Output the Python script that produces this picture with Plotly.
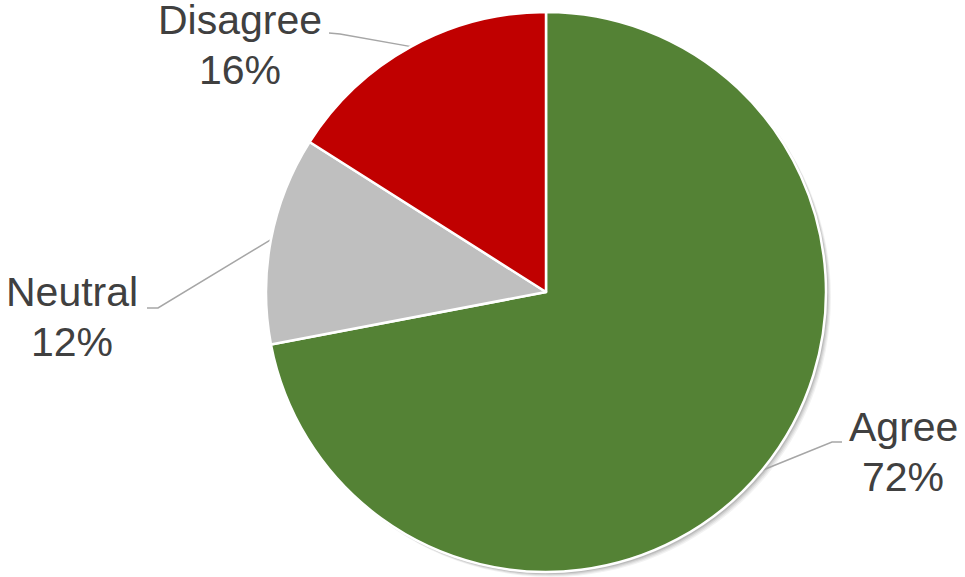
import math
import plotly.graph_objects as go

# Survey response shares (percent)
categories = ["Agree", "Neutral", "Disagree"]
values = [72, 12, 16]
colors = ["#548235", "#BFBFBF", "#C00000"]

W, H = 965, 577
CX, CY, R = 546, 292, 280  # pie centre and radius in pixels

# Label block centres (px) and leader elbows (px) for each slice
label_pos = [(903, 452), (72, 317), (240, 45)]
elbow_pos = [((842, 442), (832, 442)), ((147, 308), (158, 308)), ((329, 33), (340, 34))]

TEXT_COLOR = "#404040"
FONT = "Arial, Liberation Sans, sans-serif"

fig = go.Figure()

# soft drop shadow under the pie
for off, op in [(5, 0.05), (4, 0.06), (3, 0.08), (2, 0.10)]:
    fig.add_shape(type="circle", xref="x", yref="y",
                  x0=CX - R + off, x1=CX + R + off, y0=CY - R + off, y1=CY + R + off,
                  fillcolor="rgba(0,0,0,%.2f)" % op, line_width=0, layer="below")

fig.add_trace(go.Pie(
    labels=categories, values=values, sort=False, direction="clockwise",
    rotation=0, textinfo="none", hoverinfo="label+percent",
    marker=dict(colors=colors, line=dict(color="white", width=2.5)),
    domain=dict(x=[(CX - R) / W, (CX + R) / W], y=[1 - (CY + R) / H, 1 - (CY - R) / H]),
    showlegend=False,
))

total = sum(values)
start = 0.0
for cat, v, (lx, ly), (p0, p1) in zip(categories, values, label_pos, elbow_pos):
    frac = v / total
    mid = (start + frac / 2) * 2 * math.pi
    start += frac
    ax = CX + R * math.sin(mid)
    ay = CY - R * math.cos(mid)
    fig.add_trace(go.Scatter(
        x=[p0[0], p1[0], ax], y=[p0[1], p1[1], ay], mode="lines",
        line=dict(color="#A6A6A6", width=1.5), hoverinfo="skip", showlegend=False,
        xaxis="x", yaxis="y"))
    fig.add_annotation(x=lx, y=ly - 25, xref="x", yref="y", text=cat, showarrow=False,
                       font=dict(family=FONT, size=41, color=TEXT_COLOR),
                       xanchor="center", yanchor="middle", borderpad=0)
    fig.add_annotation(x=lx, y=ly + 25, xref="x", yref="y", text=f"{v}%", showarrow=False,
                       font=dict(family=FONT, size=41, color=TEXT_COLOR),
                       xanchor="center", yanchor="middle", borderpad=0)

fig.update_layout(
    width=W, height=H, margin=dict(l=0, r=0, t=0, b=0),
    paper_bgcolor="white", plot_bgcolor="rgba(0,0,0,0)",
    xaxis=dict(range=[0, W], visible=False, domain=[0, 1], fixedrange=True),
    yaxis=dict(range=[H, 0], visible=False, domain=[0, 1], fixedrange=True),
)

fig.write_html("out.html")
